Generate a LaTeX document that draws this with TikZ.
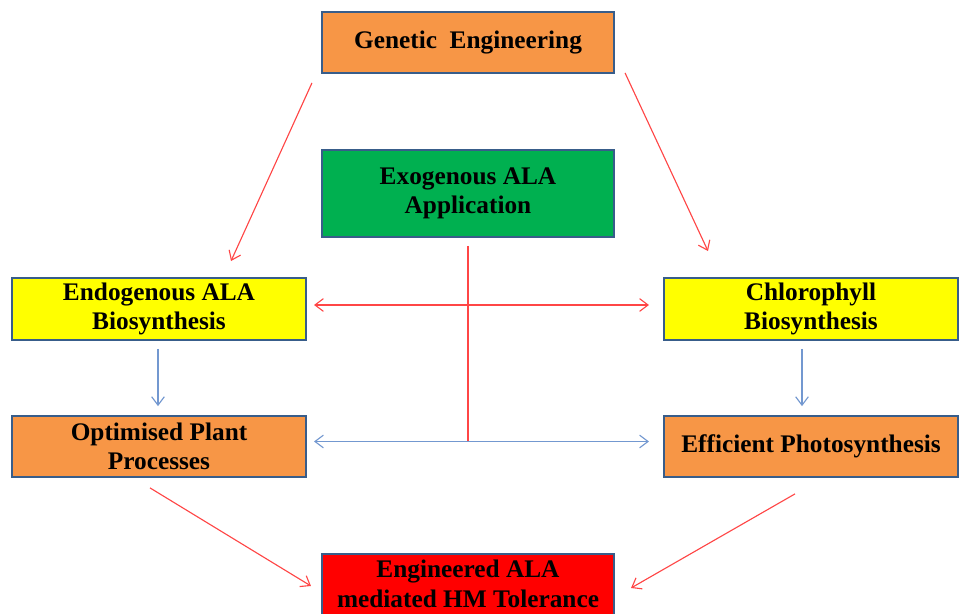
\documentclass[tikz,border=0pt]{standalone}
\usepackage{fontspec}
\setmainfont{Liberation Serif}
\usetikzlibrary{calc}
\usetikzlibrary{positioning}
\usetikzlibrary{arrows.meta}

\definecolor{boxedge}{RGB}{56,93,138}
\definecolor{boxorange}{RGB}{247,150,70}
\definecolor{boxgreen}{RGB}{0,176,80}
\definecolor{boxyellow}{RGB}{255,255,0}
\definecolor{boxred}{RGB}{255,0,0}
\definecolor{linered}{RGB}{255,70,70}
\definecolor{lineblue}{RGB}{115,152,208}

\begin{document}
\begin{tikzpicture}[x=0.025cm, y=-0.025cm,
    box/.style={draw=boxedge, line width=1.4pt, minimum width=7.3cm, minimum height=1.52cm,
                align=center, inner sep=0pt,
                font=\fontsize{18}{21}\selectfont\bfseries},
    redarr/.style={draw=linered, line width=0.8pt, -{Straight Barb[length=6pt,width=9pt]}},
    bluearr/.style={draw=lineblue, line width=0.8pt, -{Straight Barb[length=6pt,width=9pt]}}]

    % Page frame
    \clip (0,0) rectangle (960,613);
    \fill[white] (0,0) rectangle (960,613);

    % Boxes
    \node[box, fill=boxorange] (gen) at (468,42.5) {\raisebox{-2pt}{Genetic\ \ Engineering}};
    \node[box, fill=boxgreen, minimum height=2.17cm] (exo) at (468,193.5) {Exogenous ALA\\Application};
    \node[box, fill=boxyellow, minimum width=7.35cm, minimum height=1.55cm] (endo) at (159,309) {Endogenous ALA\\Biosynthesis};
    \node[box, fill=boxyellow, minimum width=7.35cm, minimum height=1.55cm] (chl) at (811,309) {Chlorophyll\\Biosynthesis};
    \node[box, fill=boxorange, minimum width=7.35cm] (opt) at (159,446.5) {Optimised Plant\\Processes};
    \node[box, fill=boxorange, minimum width=7.35cm] (eff) at (811,446.5) {Efficient Photosynthesis};
    \node[box, fill=boxred, minimum height=1.95cm, anchor=north] (eng) at (468,553) {};
    \node[font=\fontsize{18}{21}\selectfont\bfseries, align=center, anchor=north] (engtxt) at (468,555) {Engineered ALA\\mediated HM Tolerance};

    % Genetic engineering arrows
    \draw[redarr] ($(gen.south west)+(-9,9)$) -- ($(endo.north east)+(-76,-16)$);
    \draw[redarr] ($(gen.south east)+(10,-1)$) -- ($(chl.north west)+(45,-26)$);

    % Exogenous ALA line and the two double arrows
    \coordinate (hub) at ($(exo.south |- opt.east)+(0,-5)$);
    \draw[draw=linered, line width=0.8pt] ($(exo.south)+(0,8)$) -- (hub);
    \draw[redarr, {Straight Barb[length=6pt,width=9pt]}-{Straight Barb[length=6pt,width=9pt]}]
        ($(endo.east)+(7,-4)$) -- ($(chl.west)+(-14,-4)$);
    \draw[bluearr, {Straight Barb[length=6pt,width=9pt]}-{Straight Barb[length=6pt,width=9pt]}]
        ($(opt.east)+(7,-5)$) -- ($(eff.west)+(-14,-5)$);

    % Downward arrows
    \draw[bluearr] ($(endo.south)+(-1,8)$) -- ($(opt.north)+(-1,-9)$);
    \draw[bluearr] ($(chl.south)+(-9,8)$) -- ($(eff.north)+(-9,-9)$);

    % Arrows to tolerance
    \draw[redarr] ($(opt.south)+(-9,10)$) -- ($(eng.north west)+(-10,33)$);
    \draw[redarr] ($(eff.south)+(-16,16)$) -- ($(eng.north east)+(16,35)$);
\end{tikzpicture}
\end{document}
